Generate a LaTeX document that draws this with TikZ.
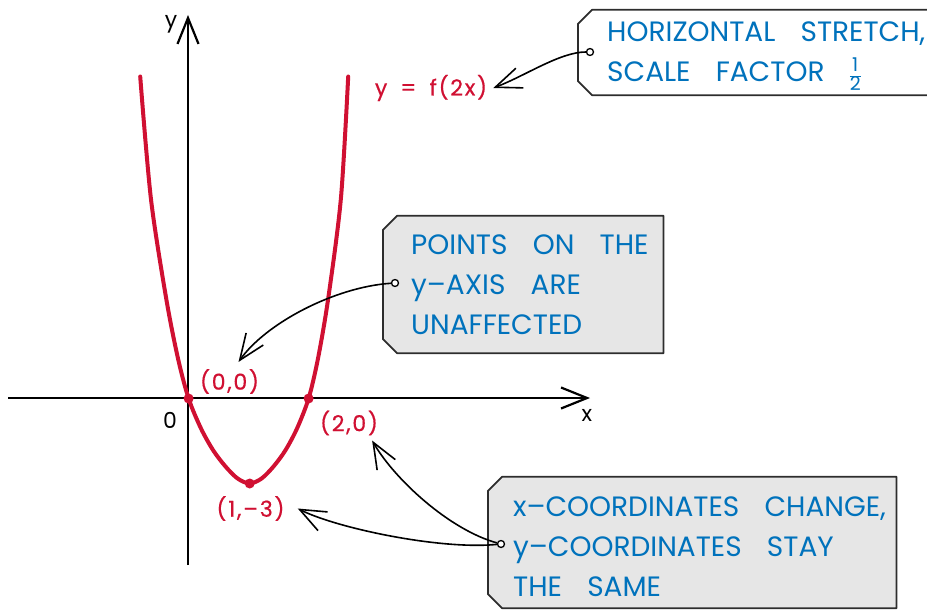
\documentclass[tikz,border=0pt]{standalone}
\usepackage{fontspec}
\setmainfont{Poppins}
\newfontfamily\handfont[LetterSpace=8,FakeBold=0.6]{Poppins}
\usetikzlibrary{arrows.meta,positioning}

\definecolor{noteblue}{RGB}{0,114,188}
\definecolor{curvered}{RGB}{208,16,50}
\definecolor{notegrey}{RGB}{230,230,230}
\definecolor{edgegrey}{RGB}{45,45,45}

\newcommand\notefont{\fontsize{28}{40}\selectfont\spaceskip=0.9em\relax}
\newcommand\halfsign{{\fontsize{19}{19}\selectfont\setlength\tabcolsep{0pt}\renewcommand\arraystretch{0.85}%
    \begin{tabular}{c}1\\\hline 2\end{tabular}}}

\tikzset{
    barb/.style={-{Straight Barb[length=26pt,width=21pt]}},
    notebox/.style={rectangle,inner sep=0pt,anchor=west},
    noteedge/.style={draw=edgegrey,line width=1.8pt,line join=round},
    notetext/.style={font=\notefont,text=noteblue,align=left,inner sep=0pt},
    notedot/.style={circle,draw,line width=1.3pt,fill=white,inner sep=0pt,minimum size=7pt},
    redlabel/.style={font=\handfont\fontsize{22}{24}\selectfont,text=curvered,inner sep=0pt},
    axislabel/.style={font=\fontsize{22}{24}\selectfont,inner sep=0pt},
    reddot/.style={circle,fill=curvered,inner sep=0pt,minimum size=10pt}
}

\begin{document}
\begin{tikzpicture}[x=1pt,y=-1pt]
    \useasboundingbox (0,0) rectangle (927,610);
    \clip (0,0) rectangle (927,610);
    % axes
    \draw[line width=2.2pt,barb] (8,398) -- (590,398);
    \draw[line width=2.2pt,barb] (188,565) -- (188,15);
    \node[axislabel] (xlab) at (587,415) {x};
    \node[axislabel] (ylab) at (171,24) {y};
    \node[axislabel] (origlab) at (170,420) {0};
    % y = f(2x)
    \draw[curvered,line width=4pt,line cap=round] plot[smooth] coordinates {
        (140.2,76.5) (150.9,198.5) (166.2,298.5) (178,358.5) (188.6,398.5) (201,428.5)
        (213.3,450.5) (225.5,466.5) (237.6,478.5) (249.7,483.5) (261.6,478.5) (273.5,466.5)
        (285.3,450.5) (297,428.5) (308.6,398.5) (318,358.5) (328.2,298.5) (340.9,198.5) (348.2,76.5)};
    \node[reddot] (origin) at (188.6,398.5) {};
    \node[reddot] (root) at (308.6,398.5) {};
    \node[reddot] (vertex) at (249.7,483.5) {};
    \node[redlabel] (fxtext) at (431,88) {y\hspace{0.6em}=\hspace{0.6em}f(2x)};
    \node[redlabel] (origtext) at (229.5,381.5) {(0,0)};
    \node[redlabel] (roottext) at (349,423) {(2,0)};
    \node[redlabel] (vertext) at (250.5,508.5) {(1,–3)};
    % notes
    \node[notebox,minimum width=390pt,minimum height=85pt] (stretchbox) at (578,52.5) {};
    \node[notebox,minimum width=280pt,minimum height=137pt] (ptsbox) at (383,284.5) {};
    \node[notebox,minimum width=408pt,minimum height=131pt] (coordbox) at (488,542.5) {};
    \foreach \b/\c in {stretchbox/white,ptsbox/notegrey,coordbox/notegrey}
        \draw[noteedge,fill=\c] ([xshift=14pt]\b.north west) -- (\b.north east) -- (\b.south east)
            -- ([xshift=14pt]\b.south west) -- ([yshift=14pt]\b.south west)
            -- ([yshift=-14pt]\b.north west) -- cycle;
    \node[notetext,right=29pt of stretchbox.west,yshift=-6pt] (stretchtext) {HORIZONTAL STRETCH,\\SCALE FACTOR \halfsign};
    \node[notetext,right=28pt of ptsbox.west] (ptstext) {POINTS ON THE\\y–AXIS ARE\\UNAFFECTED};
    \node[notetext,right=25pt of coordbox.west,yshift=-4pt] (coordtext) {x–COORDINATES CHANGE,\\y–COORDINATES STAY\\THE SAME};
    \node[notedot] (stretchdot) at (590,52) {};
    \node[notedot] (ptsdot) at (395,283) {};
    \node[notedot] (coorddot) at (501,544) {};
    % arrows
    \draw[line width=1.6pt,barb] (stretchdot) .. controls (560,52) and (525,76) .. ([xshift=6pt]fxtext.east);
    \draw[line width=1.6pt,barb] (ptsdot) .. controls (335,287) and (266,323) .. ([xshift=9pt,yshift=7pt]origtext.north);
    \draw[line width=1.6pt,barb] (coorddot) .. controls (450,530) and (395,480) .. ([xshift=-6pt,yshift=-5pt]roottext.south east);
    \draw[line width=1.6pt,barb] (coorddot) .. controls (440,550) and (336,528) .. ([xshift=13pt]vertext.east);
\end{tikzpicture}
\end{document}
